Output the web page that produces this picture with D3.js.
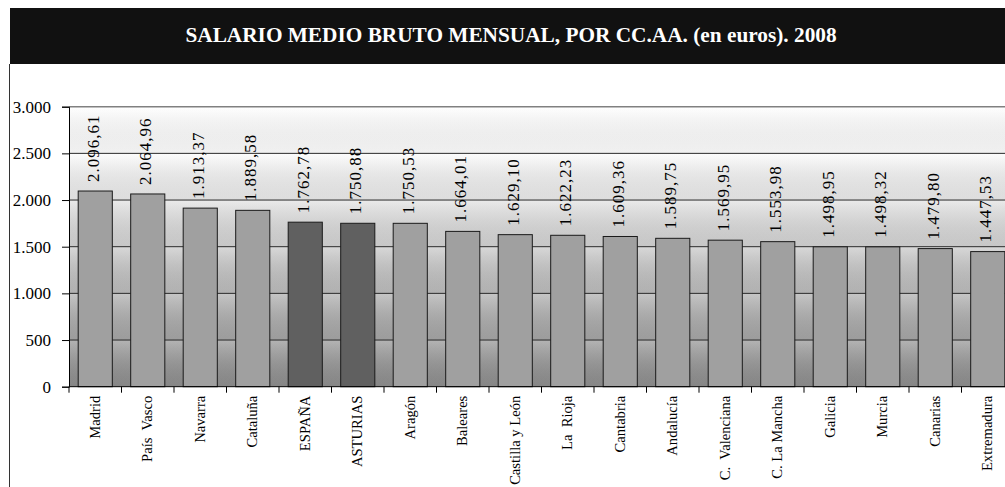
<!DOCTYPE html>
<html><head><meta charset="utf-8">
<script src="https://cdn.jsdelivr.net/npm/d3@7"></script>
<style>
html,body{margin:0;padding:0;background:#fff;}
svg{display:block;}
svg text{font-family:"Liberation Serif","Times New Roman","DejaVu Serif",serif; white-space:pre;}
</style></head>
<body>
<script>
const categories = ["Madrid","País  Vasco","Navarra","Cataluña","ESPAÑA","ASTURIAS","Aragón","Baleares","Castilla y León","La  Rioja","Cantabria","Andalucía","C.  Valenciana","C. La Mancha","Galicia","Murcia","Canarias","Extremadura"];
const values = [2096.61,2064.96,1913.37,1889.58,1762.78,1750.88,1750.53,1664.01,1629.10,1622.23,1609.36,1589.75,1569.95,1553.98,1498.95,1498.32,1479.80,1447.53];
const highlighted = ["ESPAÑA","ASTURIAS"];
const yTicks = [0,500,1000,1500,2000,2500,3000];
const title = "SALARIO MEDIO BRUTO MENSUAL, POR CC.AA. (en euros). 2008";

const W = 1005, H = 487;
const pLeft = 69, pTop = 106.7, pBottom = 386.7, stepPx = 52.5;
const pRight = pLeft + stepPx * categories.length;
const FONT = "Liberation Serif, Times New Roman, DejaVu Serif, serif";

const loc = d3.formatLocale({decimal:",", thousands:".", grouping:[3], currency:["","€"]});
const fmtVal = loc.format(",.2f");
const fmtTick = loc.format(",.0f");

const svg = d3.select("body").append("svg").attr("width", W).attr("height", H);
const defs = svg.append("defs");

const bg = defs.append("linearGradient").attr("id","bg").attr("x1",0).attr("y1",0).attr("x2",0).attr("y2",1);
bg.append("stop").attr("offset","0%").attr("stop-color","#ffffff");
bg.append("stop").attr("offset","18%").attr("stop-color","#fbfbfb");
bg.append("stop").attr("offset","40%").attr("stop-color","#dedede");
bg.append("stop").attr("offset","60%").attr("stop-color","#c2c2c2");
bg.append("stop").attr("offset","80%").attr("stop-color","#a8a8a8");
bg.append("stop").attr("offset","100%").attr("stop-color","#8c8c8c");

const band = defs.append("linearGradient").attr("id","band").attr("x1",0).attr("y1",0).attr("x2",0).attr("y2",1);
band.append("stop").attr("offset","0%").attr("stop-color","#ffffff").attr("stop-opacity",0.18);
band.append("stop").attr("offset","100%").attr("stop-color","#000000").attr("stop-opacity",0.04);

defs.append("clipPath").attr("id","clip").append("rect").attr("x",0).attr("y",0).attr("width",W).attr("height",H);

const x = d3.scaleBand().domain(categories).range([pLeft, pRight]).paddingInner(0.35).paddingOuter(0.175);
const xb = d3.scaleBand().domain(categories).range([pLeft, pRight]).padding(0);
const y = d3.scaleLinear().domain([0,3000]).range([pBottom, pTop]);

// title bar
svg.append("rect").attr("x",10).attr("y",8).attr("width",W-10).attr("height",56).attr("fill","#111111");
svg.append("text").attr("x",511).attr("y",42).attr("text-anchor","middle").attr("font-family",FONT)
  .attr("fill","#ffffff").attr("font-weight","bold").attr("font-size",21.3).text(title);

// left frame line
svg.append("line").attr("x1",9.5).attr("x2",9.5).attr("y1",64).attr("y2",H).attr("stroke","#333").attr("stroke-width",1);

const g = svg.append("g").attr("clip-path","url(#clip)");

// plot background
g.append("rect").attr("x",pLeft).attr("y",y(3000)).attr("width",pRight-pLeft).attr("height",y(0)-y(3000)).attr("fill","url(#bg)");
const bands = yTicks.slice(0,-1);
g.selectAll("rect.band").data(bands).join("rect").attr("class","band")
  .attr("x",pLeft).attr("width",pRight-pLeft)
  .attr("y",d=>y(d+500)).attr("height",d=>y(d)-y(d+500))
  .attr("fill","url(#band)");

// gridlines
g.selectAll("line.grid").data(yTicks.filter(d=>d>0 && d<3000)).join("line").attr("class","grid")
  .attr("x1",pLeft).attr("x2",pRight).attr("y1",d=>y(d)).attr("y2",d=>y(d))
  .attr("stroke","#2a2a2a").attr("stroke-width",1);
g.append("line").attr("x1",pLeft).attr("x2",pRight).attr("y1",y(3000)).attr("y2",y(3000))
  .attr("stroke","#808080").attr("stroke-width",1.5);

// bars
g.selectAll("rect.bar").data(categories).join("rect").attr("class","bar")
  .attr("x",d=>x(d)).attr("width",x.bandwidth())
  .attr("y",(d,i)=>y(values[i])).attr("height",(d,i)=>y(0)-y(values[i]))
  .attr("fill",d=>highlighted.includes(d)?"#606060":"#a0a0a0")
  .attr("stroke","#1a1a1a").attr("stroke-width",1);

// value labels
g.selectAll("text.val").data(categories).join("text").attr("class","val")
  .attr("transform",(d,i)=>`translate(${x(d)+x.bandwidth()/2+3.5},${y(values[i])-9}) rotate(-90)`)
  .attr("font-family",FONT).attr("font-size",17).attr("letter-spacing",1).attr("fill","#000")
  .text((d,i)=>fmtVal(values[i]));

// y axis
const yAxis = d3.axisLeft(y).tickValues(yTicks).tickSize(7).tickPadding(11).tickFormat(fmtTick);
const ya = svg.append("g").attr("transform",`translate(${pLeft},0)`).call(yAxis);
ya.select(".domain").attr("stroke","#000");
ya.selectAll(".tick line").attr("stroke","#000");
ya.selectAll(".tick text").attr("font-size",17).attr("fill","#000").attr("font-family",FONT);

// x axis line and boundary ticks
g.append("line").attr("x1",pLeft).attr("x2",pRight).attr("y1",y(0)).attr("y2",y(0)).attr("stroke","#000");
const bounds = categories.map(c=>xb(c)).concat([pRight]);
g.selectAll("line.xt").data(bounds).join("line").attr("class","xt")
  .attr("x1",d=>d).attr("x2",d=>d).attr("y1",y(0)).attr("y2",y(0)+6).attr("stroke","#000");

// category labels
g.selectAll("text.cat").data(categories).join("text").attr("class","cat")
  .attr("transform",d=>`translate(${x(d)+x.bandwidth()/2+4.5},${y(0)+9}) rotate(-90)`)
  .attr("text-anchor","end").attr("font-family",FONT).attr("font-size",14.6).attr("fill","#000")
  .text(d=>d);
</script>
</body></html>
